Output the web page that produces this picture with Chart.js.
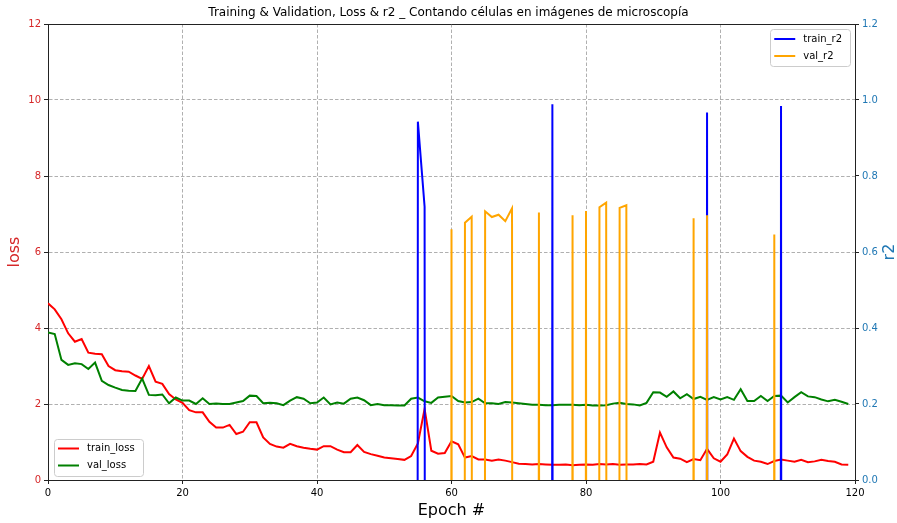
<!DOCTYPE html>
<html>
<head>
<meta charset="utf-8">
<script src="https://cdn.jsdelivr.net/npm/chart.js@4.4.0/dist/chart.umd.min.js"></script>
<style>
  body { margin: 0; background: #fff; }
</style>
</head>
<body>
<canvas id="myChart" width="897" height="523"></canvas>
<script>
// epochs 0..119
var epochs = [
  0, 1, 2, 3, 4, 5, 6, 7, 8, 9, 10, 11, 12, 13, 14, 15, 16, 17, 18, 19,
  20, 21, 22, 23, 24, 25, 26, 27, 28, 29, 30, 31, 32, 33, 34, 35, 36, 37, 38, 39,
  40, 41, 42, 43, 44, 45, 46, 47, 48, 49, 50, 51, 52, 53, 54, 55, 56, 57, 58, 59,
  60, 61, 62, 63, 64, 65, 66, 67, 68, 69, 70, 71, 72, 73, 74, 75, 76, 77, 78, 79,
  80, 81, 82, 83, 84, 85, 86, 87, 88, 89, 90, 91, 92, 93, 94, 95, 96, 97, 98, 99,
  100, 101, 102, 103, 104, 105, 106, 107, 108, 109, 110, 111, 112, 113, 114, 115, 116, 117, 118, 119
];

var trainLoss = [
  4.65, 4.49, 4.23, 3.86, 3.64, 3.71, 3.35, 3.32, 3.31, 3.00,
  2.89, 2.86, 2.85, 2.75, 2.66, 3.00, 2.59, 2.53, 2.26, 2.12,
  2.03, 1.84, 1.78, 1.78, 1.53, 1.38, 1.38, 1.45, 1.21, 1.27,
  1.52, 1.52, 1.12, 0.95, 0.88, 0.85, 0.95, 0.89, 0.85, 0.82,
  0.80, 0.89, 0.89, 0.80, 0.73, 0.73, 0.92, 0.74, 0.68, 0.64,
  0.59, 0.57, 0.55, 0.53, 0.63, 0.96, 1.87, 0.77, 0.69, 0.71,
  1.02, 0.94, 0.59, 0.63, 0.54, 0.54, 0.51, 0.54, 0.51, 0.47,
  0.43, 0.42, 0.41, 0.42, 0.41, 0.40, 0.40, 0.41, 0.39, 0.40,
  0.41, 0.40, 0.42, 0.41, 0.42, 0.40, 0.41, 0.41, 0.42, 0.41,
  0.48, 1.25, 0.86, 0.59, 0.56, 0.47, 0.55, 0.52, 0.82, 0.57,
  0.48, 0.67, 1.09, 0.76, 0.61, 0.51, 0.48, 0.42, 0.50, 0.54,
  0.51, 0.48, 0.53, 0.47, 0.49, 0.53, 0.50, 0.48, 0.41, 0.40
];

var valLoss = [
  3.88, 3.84, 3.16, 3.03, 3.07, 3.05, 2.92, 3.09, 2.61, 2.50,
  2.43, 2.37, 2.35, 2.34, 2.67, 2.24, 2.23, 2.25, 2.02, 2.17,
  2.09, 2.09, 2.00, 2.15, 2.00, 2.01, 2.00, 2.00, 2.04, 2.08,
  2.22, 2.21, 2.02, 2.03, 2.02, 1.97, 2.09, 2.18, 2.14, 2.02,
  2.04, 2.17, 1.99, 2.04, 2.01, 2.14, 2.17, 2.10, 1.97, 2.00,
  1.97, 1.97, 1.96, 1.96, 2.14, 2.17, 2.07, 2.03, 2.17, 2.19,
  2.21, 2.08, 2.04, 2.05, 2.14, 2.02, 2.02, 2.00, 2.05, 2.04,
  2.02, 2.00, 1.98, 1.98, 1.97, 1.97, 1.98, 1.98, 1.98, 1.97,
  1.98, 1.96, 1.96, 1.97, 2.01, 2.03, 2.00, 1.99, 1.96, 2.03,
  2.31, 2.30, 2.19, 2.33, 2.15, 2.26, 2.13, 2.19, 2.11, 2.18,
  2.12, 2.18, 2.11, 2.39, 2.08, 2.08, 2.21, 2.08, 2.21, 2.22,
  2.04, 2.18, 2.31, 2.20, 2.18, 2.12, 2.07, 2.11, 2.06, 2.00
];

// r2 is far below zero most epochs (off the chart), N stands for those
var N = -30;
var trainR2 = [
  N, N, N, N, N, N, N, N, N, N,
  N, N, N, N, N, N, N, N, N, N,
  N, N, N, N, N, N, N, N, N, N,
  N, N, N, N, N, N, N, N, N, N,
  N, N, N, N, N, N, N, N, N, N,
  N, N, N, N, N, 0.943, 0.719, N, N, N,
  N, N, N, N, N, N, N, N, N, N,
  N, N, N, N, N, 0.989, N, N, N, N,
  N, N, N, N, N, N, N, N, N, N,
  N, N, N, N, N, N, N, N, 0.967, N,
  N, N, N, N, N, N, N, N, N, 0.984,
  N, N, N, N, N, N, N, N, N, N
];

var valR2 = [
  N, N, N, N, N, N, N, N, N, N,
  N, N, N, N, N, N, N, N, N, N,
  N, N, N, N, N, N, N, N, N, N,
  N, N, N, N, N, N, N, N, N, N,
  N, N, N, N, N, N, N, N, N, N,
  N, N, N, N, N, N, N, N, N, N,
  0.660, N, 0.677, 0.693, N, 0.707, 0.692, 0.698, 0.681, 0.715,
  N, N, N, 0.704, N, N, N, N, 0.697, N,
  0.708, N, 0.718, 0.730, N, 0.716, 0.723, N, N, N,
  N, N, N, N, N, N, 0.689, N, 0.697, N,
  N, N, N, N, N, N, N, N, 0.646, N,
  N, N, N, N, N, N, N, N, N, N
];

var lossTicks = [0, 2, 4, 6, 8, 10, 12];
var r2Ticks = [0, 0.2, 0.4, 0.6, 0.8, 1.0, 1.2];
var epochTicks = [0, 20, 40, 60, 80, 100, 120];

var tabRed = '#d62728';
var tabBlue = '#1f77b4';
var spine = '#222222';
var gridColor = '#b0b0b0';

Chart.defaults.font.family = '"DejaVu Sans", sans-serif';
Chart.defaults.color = '#000';

function pts(values) {
  return values.map(function (v, i) { return { x: epochs[i], y: v }; });
}

function drawLegend(chart, idx, corner) {
  var ctx = chart.ctx, a = chart.chartArea;
  var sets = idx.map(function (i) { return chart.data.datasets[i]; });
  ctx.font = '10px "DejaVu Sans"';
  var textW = Math.max.apply(null, sets.map(function (d) { return ctx.measureText(d.label).width; }));
  var w = 33 + textW + 8, h = 37;
  var x = corner === 'lower left' ? a.left + 6 : a.right - 5 - w;
  var y = corner === 'lower left' ? a.bottom - 4.5 - h : a.top + 5;
  ctx.fillStyle = 'rgba(255,255,255,0.8)';
  ctx.strokeStyle = '#cccccc';
  ctx.lineWidth = 1;
  ctx.beginPath();
  ctx.roundRect(Math.round(x) + 0.5, Math.round(y) + 0.5, Math.round(w), h, 3);
  ctx.fill();
  ctx.stroke();
  sets.forEach(function (d, k) {
    var cy = y + 10 + k * 17;
    ctx.strokeStyle = d.borderColor;
    ctx.lineWidth = 2;
    ctx.beginPath();
    ctx.moveTo(x + 4, cy);
    ctx.lineTo(x + 25, cy);
    ctx.stroke();
    ctx.fillStyle = '#000';
    ctx.textAlign = 'left';
    ctx.textBaseline = 'middle';
    ctx.fillText(d.label, x + 33, cy);
  });
}

var extras = {
  id: 'extras',
  afterDraw: function (chart) {
    var ctx = chart.ctx, a = chart.chartArea;
    ctx.save();
    // top spine
    ctx.strokeStyle = spine;
    ctx.lineWidth = 1;
    ctx.beginPath();
    ctx.moveTo(a.left, Math.round(a.top) + 0.5);
    ctx.lineTo(a.right, Math.round(a.top) + 0.5);
    ctx.stroke();
    // right axis title, reads bottom to top like matplotlib
    ctx.translate(chart.width - 7, (a.top + a.bottom) / 2);
    ctx.rotate(-Math.PI / 2);
    ctx.font = '16px "DejaVu Sans"';
    ctx.fillStyle = tabBlue;
    ctx.textAlign = 'center';
    ctx.textBaseline = 'middle';
    ctx.fillText('r2', 0, 0);
    ctx.restore();
    ctx.save();
    drawLegend(chart, [0, 1], 'lower left');
    drawLegend(chart, [2, 3], 'upper right');
    ctx.restore();
  }
};

var ctx = document.getElementById('myChart').getContext('2d');
var myChart = new Chart(ctx, {
  type: 'line',
  data: {
    datasets: [
      { label: 'train_loss', data: pts(trainLoss), yAxisID: 'y', borderColor: 'red', order: 4 },
      { label: 'val_loss', data: pts(valLoss), yAxisID: 'y', borderColor: 'green', order: 3 },
      { label: 'train_r2', data: pts(trainR2), yAxisID: 'y1', borderColor: 'blue', order: 2 },
      { label: 'val_r2', data: pts(valR2), yAxisID: 'y1', borderColor: 'orange', order: 1 }
    ]
  },
  plugins: [extras],
  options: {
    responsive: false,
    animation: false,
    layout: { padding: 0 },
    elements: {
      line: { borderWidth: 2, tension: 0, fill: false },
      point: { radius: 0, hoverRadius: 0 }
    },
    scales: {
      x: {
        type: 'linear',
        min: 0,
        max: 120,
        afterBuildTicks: function (s) { s.ticks = epochTicks.map(function (v) { return { value: v }; }); },
        afterFit: function (s) { s.height = 43; },
        ticks: { font: { size: 10 }, color: '#000', padding: 3, maxRotation: 0 },
        grid: { color: gridColor, lineWidth: 1, tickColor: spine, tickLength: 4 },
        border: { color: spine, width: 1, dash: [3.5, 2] },
        title: { display: true, text: 'Epoch #', color: '#000', font: { size: 16 }, padding: { top: 0, bottom: 3 } }
      },
      y: {
        position: 'left',
        min: 0,
        max: 12,
        afterBuildTicks: function (s) { s.ticks = lossTicks.map(function (v) { return { value: v }; }); },
        afterFit: function (s) { s.width = 48; },
        ticks: { font: { size: 10 }, color: tabRed, padding: 3 },
        grid: { color: gridColor, lineWidth: 1, tickColor: spine, tickLength: 4 },
        border: { color: spine, width: 1, dash: [3.5, 2] },
        title: { display: true, text: 'loss', color: tabRed, font: { size: 16 }, padding: { top: 5, bottom: 0 } }
      },
      y1: {
        position: 'right',
        min: 0,
        max: 1.2,
        afterBuildTicks: function (s) { s.ticks = r2Ticks.map(function (v) { return { value: v }; }); },
        afterFit: function (s) { s.width = 42; },
        ticks: {
          font: { size: 10 }, color: tabBlue, padding: 3,
          callback: function (v) { return Number(v).toFixed(1); }
        },
        grid: { drawOnChartArea: false, color: spine, tickColor: spine, tickLength: 4 },
        border: { color: spine, width: 1 }
      }
    },
    plugins: {
      legend: { display: false },
      tooltip: { enabled: false },
      title: {
        display: true,
        text: 'Training & Validation, Loss & r2 _ Contando células en imágenes de microscopía',
        color: '#000',
        font: { size: 12, weight: 'normal' },
        padding: { top: 6, bottom: 3.6 }
      }
    }
  }
});
</script>
</body>
</html>
